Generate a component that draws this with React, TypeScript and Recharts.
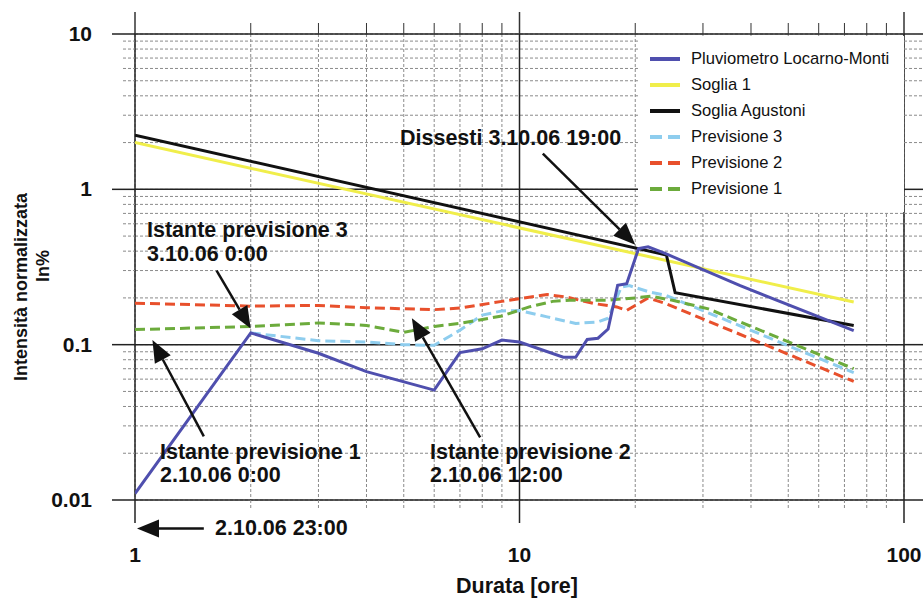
import React from 'react';
import { LineChart, Line, XAxis, YAxis, CartesianGrid, Legend, ReferenceLine } from 'recharts';

const W = 923;
const H = 599;
const FONT = '"Liberation Sans", Arial, Helvetica, sans-serif';

// durata [ore] -> intensità normalizzata In%
const pluvioDur = [1, 2, 3, 4, 6, 7, 8, 9, 10, 13, 14, 15, 16, 17, 18, 19, 20.4, 21.6, 24, 37.5, 74];
const pluvioVal = [0.011, 0.119, 0.088, 0.067, 0.051, 0.089, 0.094, 0.107, 0.104, 0.083, 0.083, 0.108, 0.11, 0.126, 0.241, 0.247, 0.415, 0.426, 0.385, 0.24, 0.123];

const soglia1Dur = [1, 74];
const soglia1Val = [2.0, 0.188];

const agustoniDur = [1, 24.1, 25.4, 74];
const agustoniVal = [2.23, 0.378, 0.216, 0.133];

const prev3Dur = [2, 3, 4, 5, 6, 7, 8, 9, 10, 11.8, 14, 16, 17, 18.4, 19.3, 21.8, 24, 74];
const prev3Val = [0.119, 0.106, 0.104, 0.1, 0.099, 0.124, 0.155, 0.165, 0.166, 0.151, 0.137, 0.14, 0.148, 0.235, 0.24, 0.218, 0.208, 0.066];

const prev2Dur = [1, 2, 3, 4, 6, 7, 9, 10, 11.8, 13.2, 15.6, 17.9, 19, 21.6, 24, 74];
const prev2Val = [0.185, 0.177, 0.179, 0.173, 0.168, 0.172, 0.19, 0.198, 0.21, 0.203, 0.184, 0.175, 0.166, 0.2, 0.184, 0.058];

const prev1Dur = [1, 2, 3, 4, 5, 6, 7, 9, 10.6, 12.2, 13.5, 16.8, 20, 22, 25, 31, 74];
const prev1Val = [0.125, 0.131, 0.138, 0.133, 0.12, 0.131, 0.137, 0.153, 0.175, 0.19, 0.193, 0.193, 0.2, 0.205, 0.193, 0.17, 0.07];

const xTicks = [1, 2, 3, 4, 5, 6, 7, 8, 9, 10, 20, 30, 40, 50, 60, 70, 80, 90, 100];
const xMajor = [1, 10, 100];
const yTicks = [
  0.01, 0.02, 0.03, 0.04, 0.05, 0.06, 0.07, 0.08, 0.09,
  0.1, 0.2, 0.3, 0.4, 0.5, 0.6, 0.7, 0.8, 0.9,
  1, 2, 3, 4, 5, 6, 7, 8, 9, 10,
];
const yMajor = [0.01, 0.1, 1, 10];

const zip = (d: number[], v: number[]) => d.map((x, i) => ({ d: x, v: v[i] }));

// legend order
const series = [
  { name: 'Pluviometro Locarno-Monti', data: zip(pluvioDur, pluvioVal), color: '#4f4fae', dash: undefined },
  { name: 'Soglia 1', data: zip(soglia1Dur, soglia1Val), color: '#f0ee4a', dash: undefined },
  { name: 'Soglia Agustoni', data: zip(agustoniDur, agustoniVal), color: '#111111', dash: undefined },
  { name: 'Previsione 3', data: zip(prev3Dur, prev3Val), color: '#8ecdee', dash: '10 5' },
  { name: 'Previsione 2', data: zip(prev2Dur, prev2Val), color: '#e8502c', dash: '10 5' },
  { name: 'Previsione 1', data: zip(prev1Dur, prev1Val), color: '#6cab3c', dash: '10 5' },
];
// draw order: forecast lines first, rain gauge on top
const drawOrder = [1, 2, 3, 4, 5, 0];

// arrows: [from, to] in data coords
const arrows = [
  [{ x: 11.5, y: 1.7 }, { x: 20, y: 0.44 }],
  [{ x: 1.63, y: 0.3 }, { x: 2.0, y: 0.127 }],
  [{ x: 1.51, y: 0.0257 }, { x: 1.11, y: 0.107 }],
  [{ x: 7.9, y: 0.0253 }, { x: 5.25, y: 0.148 }],
  [{ x: 1.51, y: 0.00656 }, { x: 1.012, y: 0.00656 }],
];

const notes = [
  { x: 400, y: 145, text: 'Dissesti 3.10.06 19:00' },
  { x: 147, y: 237, text: 'Istante previsione 3' },
  { x: 147, y: 261, text: '3.10.06 0:00' },
  { x: 160, y: 459, text: 'Istante previsione 1' },
  { x: 160, y: 482, text: '2.10.06 0:00' },
  { x: 430, y: 459, text: 'Istante previsione 2' },
  { x: 430, y: 482, text: '2.10.06 12:00' },
  { x: 215, y: 535, text: '2.10.06 23:00' },
];

const majorStroke = { stroke: '#222', strokeWidth: 1.5 };
const minorStroke = { stroke: '#8a8a8a', strokeWidth: 1, strokeDasharray: '3 2' };

function BottomTick({ x, y, payload }: any) {
  const major = xMajor.includes(payload.value);
  return (
    <g>
      <line x1={x} x2={x} y1={y} y2={y + (major ? 23 : 10)} {...(major ? majorStroke : minorStroke)} />
      {major && (
        <text x={x} y={y + 62} textAnchor="middle" fontFamily={FONT} fontWeight="bold" fontSize={21} fill="#111">
          {String(payload.value)}
        </text>
      )}
    </g>
  );
}

function TopTick({ x, y, payload }: any) {
  const major = xMajor.includes(payload.value);
  return <line x1={x} x2={x} y1={y} y2={y - (major ? 22 : 11)} stroke="#333" strokeWidth={major ? 1.5 : 1} />;
}

function LeftTick({ x, y, payload }: any) {
  const major = yMajor.includes(payload.value);
  return (
    <g>
      <line x1={x - (major ? 23 : 12)} x2={x} y1={y} y2={y} {...(major ? majorStroke : minorStroke)} />
      {major && (
        <text x={x - 43} y={y + 7} textAnchor="end" fontFamily={FONT} fontWeight="bold" fontSize={21} fill="#111">
          {String(payload.value)}
        </text>
      )}
    </g>
  );
}

function RightTick({ x, y, payload }: any) {
  const major = yMajor.includes(payload.value);
  return <line x1={x} x2={x + 19} y1={y} y2={y} {...(major ? majorStroke : minorStroke)} />;
}

function Arrow(props: any) {
  const { x1, y1, x2, y2 } = props;
  if ([x1, y1, x2, y2].some((v) => typeof v !== 'number' || isNaN(v))) return <g />;
  const dx = x2 - x1;
  const dy = y2 - y1;
  const len = Math.hypot(dx, dy) || 1;
  const ux = dx / len;
  const uy = dy / len;
  const hl = 22;
  const hw = 9;
  const bx = x2 - ux * hl;
  const by = y2 - uy * hl;
  return (
    <g>
      <line x1={x1} y1={y1} x2={bx} y2={by} stroke="#111" strokeWidth={2.5} />
      <polygon points={`${x2},${y2} ${bx - uy * hw},${by + ux * hw} ${bx + uy * hw},${by - ux * hw}`} fill="#111" />
    </g>
  );
}

function LegendBox() {
  return (
    <div style={{ background: '#fff', padding: '10px 0 10px 12px', boxSizing: 'border-box', width: 266, height: 176 }}>
      {series.map((s) => (
        <div key={s.name} style={{ display: 'flex', alignItems: 'center', height: 26 }}>
          <svg width={30} height={6} style={{ marginRight: 11 }}>
            <line x1={0} x2={30} y1={3} y2={3} stroke={s.color} strokeWidth={4} strokeDasharray={s.dash ? '12 6' : undefined} />
          </svg>
          <span style={{ fontFamily: FONT, fontSize: 16.6, color: '#111', whiteSpace: 'nowrap' }}>{s.name}</span>
        </div>
      ))}
    </div>
  );
}

export default function App() {
  return (
    <div style={{ position: 'absolute', left: 0, top: 0, width: W, height: H, background: '#fff' }}>
      <LineChart width={W} height={H} margin={{ top: 0, right: 0, bottom: 0, left: 0 }}>
        <XAxis xAxisId="b" dataKey="d" type="number" scale="log" domain={[1, 100]} allowDataOverflow
          ticks={xTicks} interval={0} height={99} tickSize={0} tickMargin={0} tickLine={false} axisLine={false}
          tickFormatter={() => ''} tick={(p: any) => <BottomTick {...p} />} />
        <XAxis xAxisId="t" orientation="top" dataKey="d" type="number" scale="log" domain={[1, 100]} allowDataOverflow
          ticks={xTicks} interval={0} height={34} tickSize={0} tickMargin={0} tickLine={false} axisLine={false}
          tickFormatter={() => ''} tick={(p: any) => <TopTick {...p} />} />
        <XAxis xAxisId="xm" dataKey="d" type="number" scale="log" domain={[1, 100]} allowDataOverflow ticks={xMajor} hide />
        <YAxis yAxisId="l" type="number" scale="log" domain={[0.01, 10]} allowDataOverflow
          ticks={yTicks} interval={0} width={135} tickSize={0} tickMargin={0} tickLine={false} axisLine={false}
          tickFormatter={() => ''} tick={(p: any) => <LeftTick {...p} />} />
        <YAxis yAxisId="r" orientation="right" type="number" scale="log" domain={[0.01, 10]} allowDataOverflow
          ticks={yTicks} interval={0} width={19} tickSize={0} tickMargin={0} tickLine={false} axisLine={false}
          tickFormatter={() => ''} tick={(p: any) => <RightTick {...p} />} />
        <YAxis yAxisId="ym" type="number" scale="log" domain={[0.01, 10]} allowDataOverflow ticks={yMajor} hide />

        <CartesianGrid xAxisId="b" yAxisId="l" {...minorStroke} />
        <CartesianGrid xAxisId="xm" yAxisId="ym" {...majorStroke} />

        {drawOrder.map((i) => {
          const s = series[i];
          return (
            <Line key={s.name} xAxisId="b" yAxisId="l" data={s.data} dataKey="v" name={s.name} type="linear"
              stroke={s.color} strokeWidth={3} strokeDasharray={s.dash} dot={false} activeDot={false}
              isAnimationActive={false} />
          );
        })}

        {arrows.map((seg, i) => (
          <ReferenceLine key={i} xAxisId="b" yAxisId="l" segment={seg} ifOverflow="visible" shape={(p: any) => <Arrow {...p} />} />
        ))}

        <Legend layout="vertical" align="center" verticalAlign="middle" content={() => <LegendBox />}
          wrapperStyle={{ left: 638, top: 36, width: 266, height: 176, margin: 0, padding: 0 }} />
      </LineChart>

      <svg width={W} height={H} style={{ position: 'absolute', left: 0, top: 0, pointerEvents: 'none' }}>
        {notes.map((n, i) => (
          <text key={i} x={n.x} y={n.y} fontFamily={FONT} fontWeight="bold" fontSize={21.5} fill="#111">{n.text}</text>
        ))}
        <text x={517} y={593} textAnchor="middle" fontFamily={FONT} fontWeight="bold" fontSize={21.5} fill="#111">Durata [ore]</text>
        <text transform="translate(21,287) rotate(-90)" textAnchor="middle" dominantBaseline="central"
          fontFamily={FONT} fontWeight="bold" fontSize={18} fill="#111">Intensità normalizzata</text>
        <text transform="translate(43,266) rotate(-90)" textAnchor="middle" dominantBaseline="central"
          fontFamily={FONT} fontWeight="bold" fontSize={18} fill="#111">In%</text>
      </svg>
    </div>
  );
}
